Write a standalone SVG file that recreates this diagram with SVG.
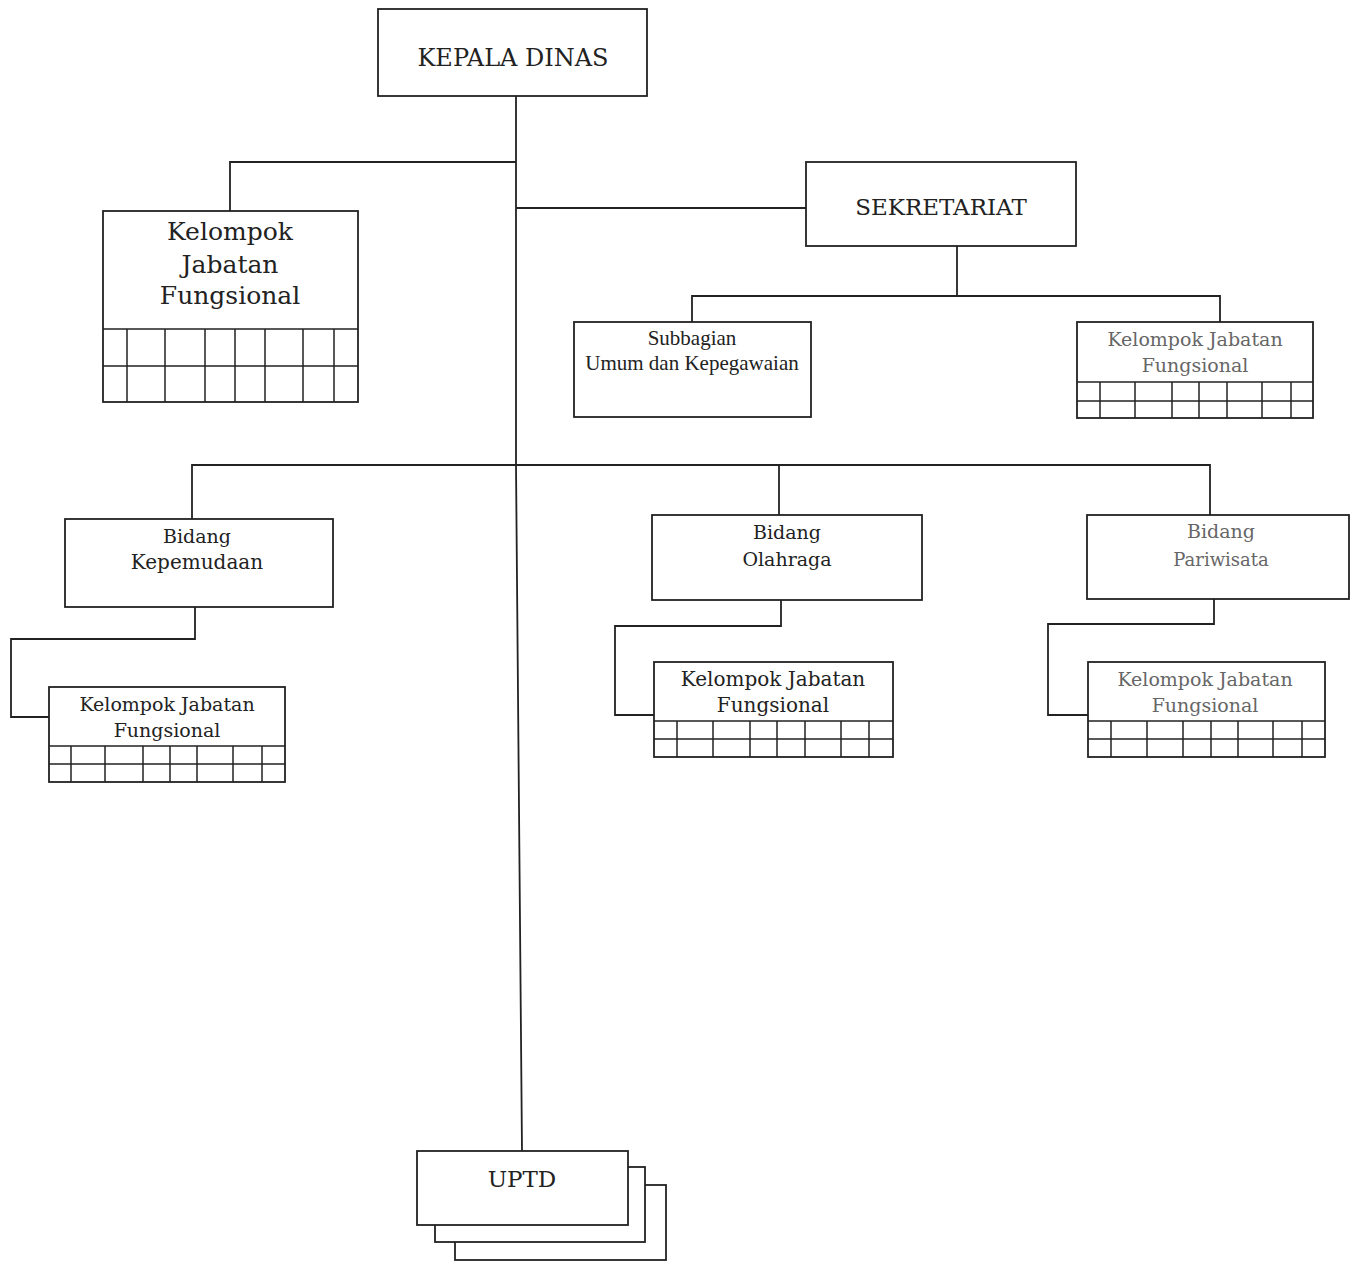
<svg xmlns="http://www.w3.org/2000/svg" width="1351" height="1261" viewBox="0 0 1351 1261">
<style>
.box{fill:#fff;stroke:#222;stroke-width:1.8}
.grid{fill:none;stroke:#222;stroke-width:1.5}
.ln{fill:none;stroke:#222;stroke-width:1.8}
.t{font-family:"DejaVu Serif","Liberation Serif",serif;fill:#222;text-anchor:middle}
.tm{font-family:"Liberation Serif",serif;fill:#222;text-anchor:middle}
.lt{fill:#666}
</style>
<rect width="1351" height="1261" fill="#fff"/>
<g id="connectors">
<polyline class="ln" points="516,96 516,465 522,1151"/>
<polyline class="ln" points="230,211 230,162 516,162"/>
<line class="ln" x1="516" y1="208" x2="806" y2="208"/>
<line class="ln" x1="957" y1="246" x2="957" y2="296"/>
<polyline class="ln" points="692,322 692,296 1220,296 1220,322"/>
<polyline class="ln" points="192,519 192,465 1210,465 1210,515"/>
<line class="ln" x1="779" y1="465" x2="779" y2="515"/>
<polyline class="ln" points="195,607 195,639 11,639 11,717 49,717"/>
<polyline class="ln" points="781,600 781,626 615,626 615,715 654,715"/>
<polyline class="ln" points="1214,599 1214,624 1048,624 1048,715 1088,715"/>
</g>
<g id="kepala-dinas">
<rect class="box" x="378" y="9" width="269" height="87"/>
<text class="t" x="513" y="66" font-size="24">KEPALA DINAS</text>
</g>
<g id="kelompok-kepala">
<rect class="box" x="103" y="211" width="255" height="191"/>
<path class="grid" d="M103 329H358M103 366H358M127 329V402M165 329V402M205 329V402M235 329V402M265 329V402M303 329V402M334 329V402"/>
<text class="t" x="230" y="240" font-size="25">Kelompok</text>
<text class="t" x="230" y="273" font-size="25">Jabatan</text>
<text class="t" x="230" y="304" font-size="25">Fungsional</text>
</g>
<g id="sekretariat">
<rect class="box" x="806" y="162" width="270" height="84"/>
<text class="t" x="941" y="215" font-size="23">SEKRETARIAT</text>
</g>
<g id="subbagian">
<rect class="box" x="574" y="322" width="237" height="95"/>
<text class="tm" x="692" y="345" font-size="21">Subbagian</text>
<text class="tm" x="692" y="370" font-size="21">Umum dan Kepegawaian</text>
</g>
<g id="kelompok-sekretariat">
<rect class="box" x="1077" y="322" width="236" height="96"/>
<path class="grid" d="M1077 382H1313M1077 401H1313M1100 382V418M1135 382V418M1172 382V418M1199 382V418M1227 382V418M1262 382V418M1291 382V418"/>
<text class="t lt" x="1195" y="346" font-size="19">Kelompok Jabatan</text>
<text class="t lt" x="1195" y="372" font-size="19">Fungsional</text>
</g>
<g id="bidang-kepemudaan">
<rect class="box" x="65" y="519" width="268" height="88"/>
<text class="t" x="197" y="543" font-size="19">Bidang</text>
<text class="t" x="197" y="569" font-size="20">Kepemudaan</text>
</g>
<g id="bidang-olahraga">
<rect class="box" x="652" y="515" width="270" height="85"/>
<text class="t" x="787" y="539" font-size="19">Bidang</text>
<text class="t" x="787" y="566" font-size="19">Olahraga</text>
</g>
<g id="bidang-pariwisata">
<rect class="box" x="1087" y="515" width="262" height="84"/>
<text class="t lt" x="1221" y="538" font-size="19">Bidang</text>
<text class="t lt" x="1221" y="566" font-size="18">Pariwisata</text>
</g>
<g id="kelompok-kepemudaan">
<rect class="box" x="49" y="687" width="236" height="95"/>
<path class="grid" d="M49 746H285M49 764H285M71 746V782M105 746V782M143 746V782M170 746V782M197 746V782M233 746V782M262 746V782"/>
<text class="t" x="167" y="711" font-size="19">Kelompok Jabatan</text>
<text class="t" x="167" y="737" font-size="19">Fungsional</text>
</g>
<g id="kelompok-olahraga">
<rect class="box" x="654" y="662" width="239" height="95"/>
<path class="grid" d="M654 721H893M654 739H893M677 721V757M713 721V757M750 721V757M777 721V757M805 721V757M841 721V757M869 721V757"/>
<text class="t" x="773" y="686" font-size="20">Kelompok Jabatan</text>
<text class="t" x="773" y="712" font-size="20">Fungsional</text>
</g>
<g id="kelompok-pariwisata">
<rect class="box" x="1088" y="662" width="237" height="95"/>
<path class="grid" d="M1088 721H1325M1088 739H1325M1111 721V757M1147 721V757M1183 721V757M1211 721V757M1238 721V757M1273 721V757M1302 721V757"/>
<text class="t lt" x="1205" y="686" font-size="19">Kelompok Jabatan</text>
<text class="t lt" x="1205" y="712" font-size="19">Fungsional</text>
</g>
<g id="uptd">
<rect class="box" x="455" y="1185" width="211" height="75"/>
<rect class="box" x="435" y="1167" width="210" height="75"/>
<rect class="box" x="417" y="1151" width="211" height="74"/>
<text class="t" x="522" y="1187" font-size="23">UPTD</text>
</g>
</svg>
